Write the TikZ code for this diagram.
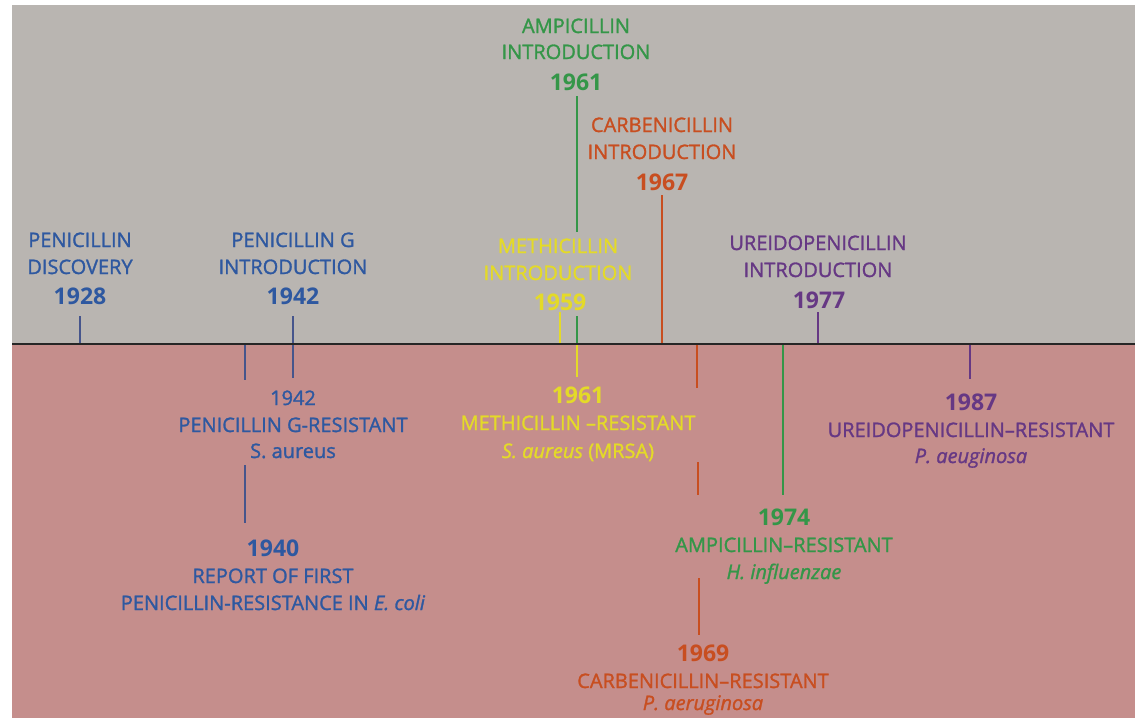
\documentclass[tikz,border=0pt]{standalone}
\usepackage{fontspec}
\setmainfont{Open Sans}
\newfontfamily\semib{Open Sans}[FakeBold=1.4,Ligatures=TeX,ItalicFeatures={FakeBold=1.4}]
\definecolor{bgGray}{RGB}{185,181,177}
\definecolor{bgPink}{RGB}{197,142,140}
\definecolor{cBlue}{RGB}{46,88,160}
\definecolor{cBlueLine}{RGB}{70,85,140}
\definecolor{cGreen}{RGB}{52,150,72}
\definecolor{cOrange}{RGB}{200,78,32}
\definecolor{cYellow}{RGB}{228,218,40}
\definecolor{cPurple}{RGB}{102,56,132}
\tikzset{
  txt/.style={font=\semib\fontsize{20}{24}\selectfont, anchor=base, inner sep=0pt},
  yr/.style={font=\bfseries\fontsize{23}{28}\selectfont, anchor=base, inner sep=0pt},
  tick/.style={line width=1.6pt},
}
\begin{document}
\begin{tikzpicture}[x=1pt,y=-1pt]
\useasboundingbox (0,0) rectangle (1139,718);
\clip (0,0) rectangle (1139,718);
\fill[bgGray] (12,5) rectangle (1135,344);
\fill[bgPink] (12,344) rectangle (1135,718);
\coordinate (axL) at (12,344);
\coordinate (axR) at (1135,344);

% ---- top labels ----
\begin{scope}[every node/.append style={text=cBlue}]
\node[txt] (a1) at (80,247) {PENICILLIN};
\node[txt] (a2) at (80,274) {DISCOVERY};
\node[yr]  (a3) at (80,304) {1928};
\node[txt] (b1) at (293,247) {PENICILLIN G};
\node[txt] (b2) at (293,274) {INTRODUCTION};
\node[yr]  (b3) at (293,304) {1942};
\end{scope}
\begin{scope}[every node/.append style={text=cGreen}]
\node[txt] (c1) at (576,33) {AMPICILLIN};
\node[txt] (c2) at (576,59) {INTRODUCTION};
\node[yr]  (c3) at (576,90) {1961};
\end{scope}
\begin{scope}[every node/.append style={text=cYellow}]
\node[txt] (d1) at (558,253) {METHICILLIN};
\node[txt] (d2) at (558,280) {INTRODUCTION};
\node[yr]  (d3) at (560,310) {1959};
\end{scope}
\begin{scope}[every node/.append style={text=cOrange}]
\node[txt] (e1) at (662,132) {CARBENICILLIN};
\node[txt] (e2) at (662,159) {INTRODUCTION};
\node[yr]  (e3) at (662,190) {1967};
\end{scope}
\begin{scope}[every node/.append style={text=cPurple}]
\node[txt] (f1) at (818,250) {UREIDOPENICILLIN};
\node[txt] (f2) at (818,277) {INTRODUCTION};
\node[yr]  (f3) at (819,308) {1977};
\end{scope}

% ---- bottom labels ----
\begin{scope}[every node/.append style={text=cBlue}]
\node[txt] (g1) at (293,405) {1942};
\node[txt] (g2) at (293,432) {PENICILLIN G-RESISTANT};
\node[txt] (g3) at (293,458) {S. aureus};
\node[yr]  (h1) at (273,556) {1940};
\node[txt] (h2) at (273,583) {REPORT OF FIRST};
\node[txt] (h3) at (273,610) {PENICILLIN-RESISTANCE IN \textit{E. coli}};
\end{scope}
\begin{scope}[every node/.append style={text=cYellow}]
\node[yr]  (i1) at (578,403) {1961};
\node[txt] (i2) at (578,430) {METHICILLIN –RESISTANT};
\node[txt] (i3) at (578,458) {\textit{S. aureus} (MRSA)};
\end{scope}
\begin{scope}[every node/.append style={text=cGreen}]
\node[yr]  (j1) at (784,525) {1974};
\node[txt] (j2) at (784,552) {AMPICILLIN–RESISTANT};
\node[txt] (j3) at (784,579) {\textit{H. influenzae}};
\end{scope}
\begin{scope}[every node/.append style={text=cOrange}]
\node[yr]  (k1) at (703,661) {1969};
\node[txt] (k2) at (703,688) {CARBENICILLIN–RESISTANT};
\node[txt] (k3) at (703,710) {\textit{P. aeruginosa}};
\end{scope}
\begin{scope}[every node/.append style={text=cPurple}]
\node[yr]  (l1) at (971,410) {1987};
\node[txt] (l2) at (971,437) {UREIDOPENICILLIN–RESISTANT};
\node[txt] (l3) at (971,463) {\textit{P. aeuginosa}};
\end{scope}

% ---- connector coordinates ----
\coordinate (t1928) at (80,316);   \coordinate (x1928) at (80,344);
\coordinate (t1942) at (293,316);  \coordinate (x1942) at (293,378);
\coordinate (x1940a) at (245,344); \coordinate (x1940b) at (245,380);
\coordinate (x1940c) at (245,465); \coordinate (x1940d) at (245,523);
\coordinate (t1961a) at (577,96);  \coordinate (t1961b) at (577,232);
\coordinate (t1961c) at (577,316); \coordinate (x1961) at (577,344);
\coordinate (t1959) at (560,312);  \coordinate (x1959) at (560,344);
\coordinate (y1961) at (577,377);
\coordinate (t1967) at (662,195);  \coordinate (x1967) at (662,344);
\coordinate (o1) at (697,344); \coordinate (o2) at (697,388);
\coordinate (o3) at (698,462); \coordinate (o4) at (698,495);
\coordinate (o5) at (699,578); \coordinate (o6) at (699,635);
\coordinate (g74a) at (783,344); \coordinate (g74b) at (783,495);
\coordinate (t1977) at (818,312); \coordinate (x1977) at (818,344);
\coordinate (p87a) at (970,344); \coordinate (p87b) at (970,379);

\draw[tick,cBlueLine] (t1928) -- (x1928);
\draw[tick,cBlueLine] (t1942) -- (x1942);
\draw[tick,cBlueLine] (x1940a) -- (x1940b);
\draw[tick,cBlueLine] (x1940c) -- (x1940d);
\draw[tick,cGreen] (t1961a) -- (t1961b);
\draw[tick,cGreen] (t1961c) -- (x1961);
\draw[tick,cYellow] (t1959) -- (x1959);
\draw[tick,cYellow] (x1961) -- (y1961);
\draw[tick,cOrange] (t1967) -- (x1967);
\draw[tick,cOrange] (o1) -- (o2);
\draw[tick,cOrange] (o3) -- (o4);
\draw[tick,cOrange] (o5) -- (o6);
\draw[tick,cGreen] (g74a) -- (g74b);
\draw[tick,cPurple] (t1977) -- (x1977);
\draw[tick,cPurple] (p87a) -- (p87b);

\draw[line width=2.6pt,black!85] (axL) -- (axR);
\end{tikzpicture}
\end{document}
